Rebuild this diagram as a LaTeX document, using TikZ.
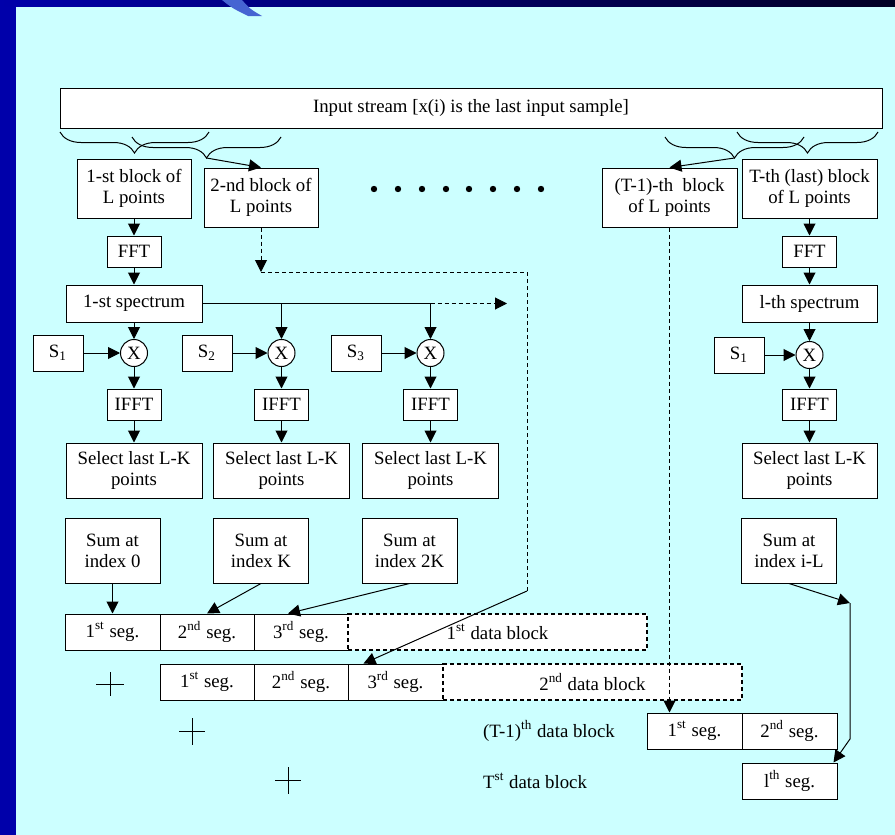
\documentclass[tikz,border=0pt]{standalone}
\usepackage{fontspec}
\setmainfont{Liberation Serif}
\usepackage{tikz}
\usetikzlibrary{arrows.meta,decorations.pathreplacing}
\definecolor{bgcyan}{RGB}{204,255,255}
\definecolor{barblue}{RGB}{0,0,170}
\definecolor{bardark}{RGB}{0,0,35}
\definecolor{swoosh}{RGB}{70,100,210}

\begin{document}
\begin{tikzpicture}[x=0.5pt,y=-0.5pt,line width=0.5pt,
    every node/.style={font=\fontsize{9.4}{10.6}\selectfont},
    box/.style={draw,fill=white,inner sep=0pt,align=center},
    dbox/.style={box,dashed,line width=1pt,dash pattern=on 2pt off 1.5pt},
    mult/.style={draw,circle,fill=white,inner sep=0pt,minimum size=13.5pt},
    arr/.style={-{Triangle[length=6pt,width=6pt]}},
    darr/.style={arr,dash pattern=on 2pt off 1.5pt},
    brc/.style={decorate,decoration={brace,mirror,amplitude=10.5pt}}]
    \useasboundingbox (0,0) rectangle (895,835);
    \fill[bgcyan] (0,0) rectangle (895,835);
    \fill[barblue] (0,0) rectangle (16,835);
    \shade[left color=barblue,right color=bardark] (0,0) rectangle (895,6);
    \fill[swoosh] (222,0) .. controls (232,8) .. (248,16) -- (262,16) .. controls (250,9) .. (242,0) -- cycle;

    \node[box,minimum width=411pt,minimum height=20pt] (stream) at (471,108) {Input stream [x(i) is the last input sample]};

    \node[box,minimum width=57pt,minimum height=29.5pt] (blocka) at (134,188.5) {1-st block of\\L points};
    \node[box,minimum width=57pt,minimum height=29.5pt] (blockb) at (261,197.5) {2-nd block of\\L points};
    \node[box,minimum width=67.5pt,minimum height=29.5pt] (blockt) at (669.5,197.5) {(T-1)-th~ block\\of L points};
    \node[box,minimum width=67.5pt,minimum height=29.5pt] (blocklast) at (809.5,188.5) {T-th (last) block\\of L points};

    \node[box,minimum width=27pt,minimum height=15.5pt] (ffta) at (134,251.5) {FFT};
    \node[box,minimum width=27pt,minimum height=15.5pt] (fftl) at (809.5,251.5) {FFT};
    \node[box,minimum width=68pt,minimum height=18.5pt] (speca) at (134,303.5) {1-st spectrum};
    \node[box,minimum width=67.5pt,minimum height=18.5pt] (specl) at (809.5,303.5) {l-th spectrum};

    \node[box,minimum width=25pt,minimum height=18pt] (sa) at (58,353) {S\textsubscript{1}};
    \node[box,minimum width=25pt,minimum height=18pt] (sb) at (207,353) {S\textsubscript{2}};
    \node[box,minimum width=25pt,minimum height=18pt] (sc) at (356,353) {S\textsubscript{3}};
    \node[box,minimum width=25pt,minimum height=18pt] (sl) at (739,355) {S\textsubscript{1}};
    \node[mult] (mula) at (134,353) {X};
    \node[mult] (mulb) at (281.5,353) {X};
    \node[mult] (mulc) at (430.5,353) {X};
    \node[mult] (mull) at (809.5,355) {X};

    \node[box,minimum width=27pt,minimum height=15.5pt] (iffta) at (134,404.5) {IFFT};
    \node[box,minimum width=27pt,minimum height=15.5pt] (ifftb) at (281.5,404.5) {IFFT};
    \node[box,minimum width=27pt,minimum height=15.5pt] (ifftc) at (430.5,404.5) {IFFT};
    \node[box,minimum width=27pt,minimum height=15.5pt] (ifftl) at (809.5,404.5) {IFFT};

    \node[box,minimum width=68pt,minimum height=27.5pt] (sela) at (134,470.5) {Select last L-K\\points};
    \node[box,minimum width=68pt,minimum height=27.5pt] (selb) at (281.5,470.5) {Select last L-K\\points};
    \node[box,minimum width=68pt,minimum height=27.5pt] (selc) at (430.5,470.5) {Select last L-K\\points};
    \node[box,minimum width=67.5pt,minimum height=27.5pt] (sell) at (809.5,470.5) {Select last L-K\\points};

    \node[box,minimum width=47.5pt,minimum height=32.5pt] (suma) at (112.5,550.5) {Sum at\\index 0};
    \node[box,minimum width=47.5pt,minimum height=32.5pt] (sumb) at (261,550.5) {Sum at\\index K};
    \node[box,minimum width=47.5pt,minimum height=32.5pt] (sumc) at (409.5,550.5) {Sum at\\index 2K};
    \node[box,minimum width=47.5pt,minimum height=32.5pt] (suml) at (789,550.5) {Sum at\\index i-L};

    \node[box,minimum width=47.5pt,minimum height=18pt] (rowaa) at (112.5,632) {1\textsuperscript{st} seg.};
    \node[box,minimum width=47pt,minimum height=18pt] (rowab) at (207,632) {2\textsuperscript{nd} seg.};
    \node[box,minimum width=47pt,minimum height=18pt] (rowac) at (301,632) {3\textsuperscript{rd} seg.};
    \node[dbox,minimum width=149.5pt,minimum height=18pt] (rowad) at (497.5,632) {1\textsuperscript{st} data block};

    \node[box,minimum width=47pt,minimum height=18pt] (rowba) at (207,682) {1\textsuperscript{st} seg.};
    \node[box,minimum width=47pt,minimum height=18pt] (rowbb) at (301,682) {2\textsuperscript{nd} seg.};
    \node[box,minimum width=47.5pt,minimum height=18pt] (rowbc) at (395.5,682) {3\textsuperscript{rd} seg.};
    \node[dbox,minimum width=149.5pt,minimum height=18pt] (rowbd) at (592.5,682) {2\textsuperscript{nd} data block};

    \node[anchor=west] (labelt) at (476,731) {(T-1)\textsuperscript{th} data block};
    \node[box,minimum width=47.5pt,minimum height=18pt] (rowta) at (694.5,731) {1\textsuperscript{st} seg.};
    \node[box,minimum width=47.5pt,minimum height=18pt] (rowtb) at (789.5,731) {2\textsuperscript{nd} seg.};
    \node[anchor=west] (labellast) at (476,781) {T\textsuperscript{st} data block};
    \node[box,minimum width=47.5pt,minimum height=18pt] (rowla) at (789.5,781) {l\textsuperscript{th} seg.};

    \draw[brc] (60,132) -- (209,132);
    \draw[brc] (132,137) -- (281,137);
    \draw[brc] (665,137) -- (804,137);
    \draw[brc] (737,132) -- (878,132);
    \coordinate (tipb) at (206.5,158);
    \coordinate (tipt) at (734.5,158);

    \fill (374,189) circle (1.6pt);
    \fill (398,189) circle (1.6pt);
    \fill (422,189) circle (1.6pt);
    \fill (446,189) circle (1.6pt);
    \fill (469,189) circle (1.6pt);
    \fill (493,189) circle (1.6pt);
    \fill (517,189) circle (1.6pt);
    \fill (541,189) circle (1.6pt);

    \draw (96,684) -- (124,684);
    \draw (110,672) -- (110,696);
    \draw (179,731) -- (205,731);
    \draw (192,718) -- (192,745);
    \draw (275,780) -- (301,780);
    \draw (288,767) -- (288,794);

    \draw[arr] (tipb) -- (blockb.north);
    \draw[arr] (tipt) -- (blockt.north);
    \draw[arr] (blocka) -- (ffta);
    \draw[arr] (ffta) -- (speca);
    \draw[arr] (blocklast) -- (fftl);
    \draw[arr] (fftl) -- (specl);

    \coordinate (specend) at (507,303.5);
    \draw (speca) -- (speca -| mulc);
    \draw[darr] (speca -| mulc) -- (specend);
    \draw[arr] (speca) -- (mula);
    \draw[arr] (speca -| mulb) -- (mulb);
    \draw[arr] (speca -| mulc) -- (mulc);
    \draw[arr] (specl) -- (mull);

    \draw[arr] (sa) -- (mula);
    \draw[arr] (sb) -- (mulb);
    \draw[arr] (sc) -- (mulc);
    \draw[arr] (sl) -- (mull);
    \draw[arr] (mula) -- (iffta);
    \draw[arr] (mulb) -- (ifftb);
    \draw[arr] (mulc) -- (ifftc);
    \draw[arr] (mull) -- (ifftl);
    \draw[arr] (iffta) -- (sela);
    \draw[arr] (ifftb) -- (selb);
    \draw[arr] (ifftc) -- (selc);
    \draw[arr] (ifftl) -- (sell);

    \draw[arr] (suma) -- (rowaa);
    \draw[arr] (sumb.south) -- (rowab.north);
    \draw[arr] (sumc.south) -- ([xshift=-6.5pt]rowac.north);

    \coordinate (bendb) at (261,272);
    \coordinate (bendc) at (527,272);
    \coordinate (bendd) at (527,591);
    \draw[darr] (blockb) -- (bendb);
    \draw[dash pattern=on 2pt off 1.5pt] (bendb) -- (bendc) -- (bendd);
    \draw[arr] (bendd) -- ([xshift=-16pt]rowbc.north);

    \draw[darr] (blockt) -- (blockt.south |- rowta.north);

    \coordinate (bendl) at (850,603);
    \coordinate (bendm) at (850,739);
    \draw[arr] (suml.south) -- (bendl);
    \draw[arr] (bendl) -- (bendm) -- ([xshift=-2pt]rowla.north east);
\end{tikzpicture}
\end{document}
